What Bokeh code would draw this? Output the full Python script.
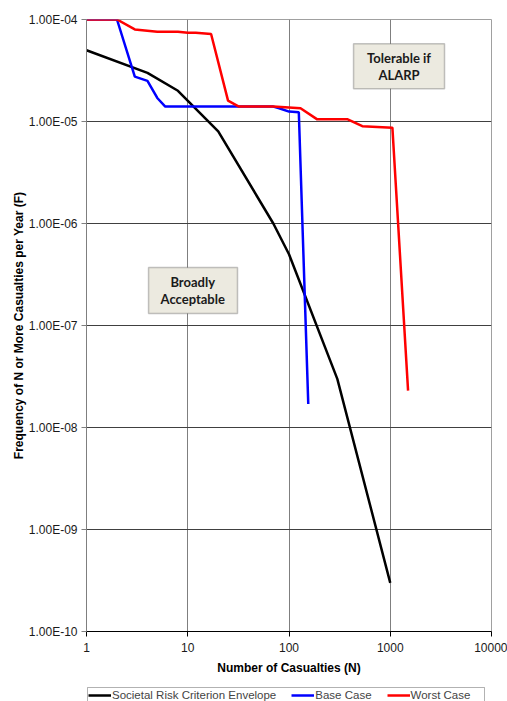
import numpy as np
from bokeh.plotting import figure
from bokeh.layouts import column
from bokeh.models import (FixedTicker, CustomJSTickFormatter, Legend, LegendItem,
                          BoxAnnotation, Label, Range1d)
from bokeh.embed import file_html
from bokeh.resources import INLINE

# ---- data ----
criterion_n = [1, 4, 8, 20, 70, 100, 300, 1000]
criterion_f = [5e-5, 3e-5, 2e-5, 8e-6, 1e-6, 5e-7, 3e-8, 3e-10]

base_n = [1, 2, 3, 4, 5, 6, 70, 80, 100, 125, 155]
base_f = [1e-4, 1e-4, 2.75e-5, 2.5e-5, 1.7e-5, 1.4e-5, 1.4e-5, 1.35e-5, 1.25e-5, 1.23e-5, 1.7e-8]

worst_n = [1, 2, 3, 5, 8, 10, 12, 17, 25, 32, 70, 130, 190, 380, 530, 1050, 1500]
worst_f = [1e-4, 1e-4, 8e-5, 7.6e-5, 7.6e-5, 7.4e-5, 7.4e-5, 7.2e-5, 1.6e-5, 1.4e-5,
           1.4e-5, 1.35e-5, 1.05e-5, 1.05e-5, 9e-6, 8.7e-6, 2.3e-8]

x_ticks = [1, 10, 100, 1000, 10000]
y_ticks = [1e-10, 1e-9, 1e-8, 1e-7, 1e-6, 1e-5, 1e-4]

series_names = ["Societal Risk Criterion Envelope", "Base Case", "Worst Case"]
series_colors = ["#000000", "#0000FF", "#FF0000"]

FONT = "Liberation Sans"

p = figure(width=507, height=681, x_axis_type="log", y_axis_type="log",
           x_range=Range1d(1, 10000), y_range=Range1d(1e-10, 1e-4),
           output_backend="svg", toolbar_location=None,
           min_border_left=86, min_border_top=19, min_border_right=16, min_border_bottom=50)

p.outline_line_color = "#A0A0A0"
p.background_fill_color = "white"
p.border_fill_color = "white"

# grids
p.xgrid.ticker = FixedTicker(ticks=x_ticks)
p.ygrid.ticker = FixedTicker(ticks=y_ticks)
p.xgrid.grid_line_color = "#7F7F7F"
p.ygrid.grid_line_color = "#404040"
p.xgrid.grid_line_width = 1
p.ygrid.grid_line_width = 1
p.xgrid.minor_grid_line_color = None
p.ygrid.minor_grid_line_color = None

# axes
xa = p.xaxis[0]
ya = p.yaxis[0]
xa.ticker = FixedTicker(ticks=x_ticks)
ya.ticker = FixedTicker(ticks=y_ticks)
xa.formatter = CustomJSTickFormatter(code="return Math.round(tick).toString();")
ya.formatter = CustomJSTickFormatter(code="""
const s = tick.toExponential(2).toUpperCase();
const parts = s.split('E');
const e = parts[1];
const sign = e[0] === '-' ? '-' : '+';
let d = e.replace('-', '').replace('+', '');
if (d.length < 2) d = '0' + d;
return parts[0] + 'E' + sign + d;
""")
for ax in (xa, ya):
    ax.minor_tick_line_color = None
    ax.major_tick_out = 5
    ax.major_tick_in = 0
    ax.major_label_text_font = FONT
    ax.major_label_text_font_size = "12px"
    ax.major_label_text_color = "#1A1A1A"
    ax.axis_label_text_font = FONT
    ax.axis_label_text_font_size = "12px"
    ax.axis_label_text_font_style = "bold"
    ax.axis_label_text_color = "#000000"
xa.axis_line_color = "#000000"
xa.major_tick_line_color = "#000000"
ya.axis_line_color = "#7F7F7F"
ya.major_tick_line_color = "#7F7F7F"
xa.major_label_standoff = 6
ya.major_label_standoff = 4
xa.axis_label = "Number of Casualties (N)"
ya.axis_label = "Frequency of N or More Casualties per Year (F)"
xa.axis_label_standoff = 6
ya.axis_label_standoff = 0

# lines
r1 = p.line(criterion_n, criterion_f, line_color=series_colors[0], line_width=2.5)
r2 = p.line(base_n, base_f, line_color=series_colors[1], line_width=2.5)
r3 = p.line(worst_n, worst_f, line_color=series_colors[2], line_width=2.5)

# annotation boxes
box_fill = "#ECEAE0"
tol = BoxAnnotation(left=434, right=3436, top=5.8e-5, bottom=2.1e-5,
                    fill_color=box_fill, fill_alpha=1, line_color="#404040", line_width=1.5)
acc = BoxAnnotation(left=4.1, right=31, top=3.7e-7, bottom=1.31e-7,
                    fill_color=box_fill, fill_alpha=1, line_color="#404040", line_width=1.5)
p.add_layout(tol)
p.add_layout(acc)

def box_text(x, y, lines):
    offs = [8.5, -8.5]
    for t, o in zip(lines, offs):
        p.add_layout(Label(x=x, y=y, y_offset=o, text=t, text_align="center",
                           text_baseline="middle", text_font="Lato",
                           text_font_style="bold", text_font_size="13px",
                           text_color="#1A1A1A"))

box_text(1221, 3.5e-5, ["Tolerable if", "ALARP"])
box_text(11.2, 2.21e-7, ["Broadly", "Acceptable"])

# ---- legend strip below the chart ----
lg = figure(width=507, height=20, x_range=Range1d(0, 1), y_range=Range1d(0, 1),
            output_backend="svg", toolbar_location=None,
            min_border_left=86, min_border_right=16, min_border_top=0, min_border_bottom=0,
            x_axis_location=None, y_axis_location=None)
lg.outline_line_color = None
lg.grid.visible = False
lg.border_fill_color = "white"
lg.background_fill_color = "white"
dummies = [lg.line(x=[0], y=[-5], line_color=c, line_width=2.5) for c in series_colors]

frame_box = BoxAnnotation(left=87, right=484, top=6, bottom=40,
                          left_units="canvas", right_units="canvas",
                          top_units="canvas", bottom_units="canvas",
                          fill_alpha=0, line_color="#000000", line_width=1)
lg.add_layout(frame_box)

legend = Legend(items=[LegendItem(label=n, renderers=[r]) for n, r in zip(series_names, dummies)],
                orientation="horizontal", location=(2, 0))
legend.border_line_color = None
legend.background_fill_alpha = 0
legend.label_text_font = FONT
legend.label_text_font_size = "11.5px"
legend.glyph_width = 23
legend.glyph_height = 10
legend.label_standoff = 1
legend.spacing = 15
legend.padding = 2
legend.margin = 0
legend.label_height = 12
lg.add_layout(legend, "center")

layout = column(p, lg, spacing=0)

open("out.html", "w").write(file_html(layout, INLINE))
